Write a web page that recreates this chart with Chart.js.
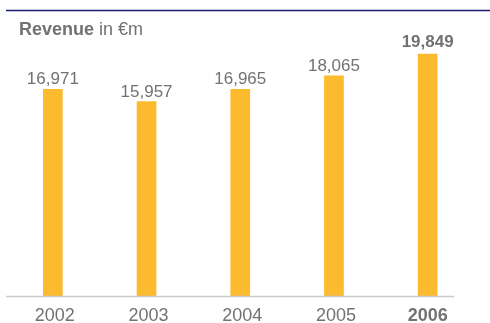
<!DOCTYPE html>
<html>
<head>
<meta charset="utf-8">
<script src="https://cdn.jsdelivr.net/npm/chart.js@4/dist/chart.umd.min.js"></script>
<style>
  html, body { margin: 0; padding: 0; background: #ffffff; }
  #wrap { width: 490px; height: 323px; position: relative; }
</style>
</head>
<body>
<div id="wrap"><canvas id="c" width="490" height="323"></canvas></div>
<script>
const years = ['2002', '2003', '2004', '2005', '2006'];
const revenue = [16971, 15957, 16965, 18065, 19849];
const valueLabels = ['16,971', '15,957', '16,965', '18,065', '19,849'];
const highlightIndex = 4;

const FONT = '"Liberation Sans", Arial, Helvetica, sans-serif';
const TEXT = '#727272';
const BAR = '#FCBA2F';

const decor = {
  id: 'decor',
  afterDraw(chart) {
    const ctx = chart.ctx;
    const area = chart.chartArea;
    const xs = chart.scales.x;
    ctx.save();
    // top rule
    ctx.strokeStyle = '#1c1f6b';
    ctx.lineWidth = 1.5;
    ctx.beginPath();
    ctx.moveTo(6, 10.5);
    ctx.lineTo(chart.width, 10.5);
    ctx.stroke();
    // baseline
    ctx.strokeStyle = '#c9c9c9';
    ctx.lineWidth = 1.5;
    ctx.beginPath();
    ctx.moveTo(area.left, area.bottom + 0.5);
    ctx.lineTo(area.right - 20.5, area.bottom + 0.5);
    ctx.stroke();
    // title
    ctx.fillStyle = TEXT;
    ctx.textBaseline = 'alphabetic';
    ctx.textAlign = 'left';
    ctx.font = 'bold 18px ' + FONT;
    ctx.fillText('Revenue', 19, 35);
    const w = ctx.measureText('Revenue').width;
    ctx.font = '18px ' + FONT;
    ctx.fillText(' in €m', 19 + w, 35);
    // value labels
    const meta = chart.getDatasetMeta(0);
    ctx.textAlign = 'center';
    meta.data.forEach((bar, i) => {
      const bold = i === highlightIndex;
      ctx.font = (bold ? 'bold ' : '') + '17px ' + FONT;
      ctx.fillText(valueLabels[i], bar.x, bar.y - (bold ? 7 : 5));
    });
    // category tick labels
    years.forEach((y, i) => {
      const bold = i === highlightIndex;
      ctx.font = (bold ? 'bold ' : '') + '18px ' + FONT;
      ctx.fillText(y, xs.getPixelForTick(i) + (bold ? 0 : 2), area.bottom + 25);
    });
    ctx.restore();
  }
};

new Chart(document.getElementById('c'), {
  type: 'bar',
  data: {
    labels: years,
    datasets: [{
      data: revenue,
      backgroundColor: BAR,
      borderWidth: 0,
      barThickness: 19
    }]
  },
  options: {
    responsive: false,
    animation: false,
    devicePixelRatio: 1,
    layout: { padding: { left: 6, right: 15.5, top: 28, bottom: 27 } },
    plugins: { legend: { display: false }, tooltip: { enabled: false } },
    scales: {
      x: {
        display: false,
        grid: { display: false }
      },
      y: {
        display: false,
        min: 0,
        max: 22000
      }
    }
  },
  plugins: [decor]
});
</script>
</body>
</html>
